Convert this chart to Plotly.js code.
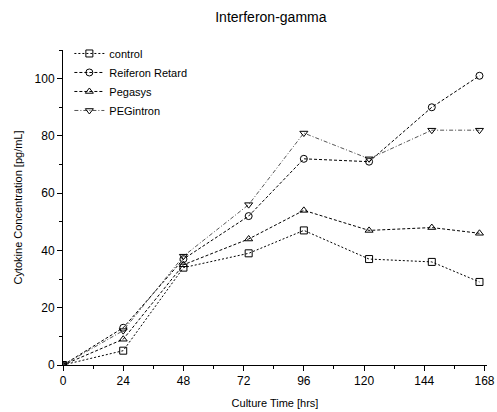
<!DOCTYPE html>
<html><head><meta charset="utf-8">
<script src="https://cdn.plot.ly/plotly-3.0.1.min.js"></script>
<style>html,body{margin:0;padding:0;background:#fff}#chart{width:497px;height:412px}</style>
</head><body><div id="chart"></div>
<script>
const timeHrs = [0, 24, 48, 74, 96, 122, 147, 166];
const control = [0, 5, 34, 39, 47, 37, 36, 29];
const reiferonRetard = [0, 13, 37, 52, 72, 71, 90, 101];
const pegasys = [0, 9, 35, 44, 54, 47, 48, 46];
const pegIntron = [0, 12, 38, 56, 81, 72, 82, 82];
const seriesNames = ['control', 'Reiferon Retard', 'Pegasys', 'PEGintron'];
const xTicks = [0, 24, 48, 72, 96, 120, 144, 168];
const yTicks = [0, 20, 40, 60, 80, 100];

const styles = [
  {sym: 'square-open', dash: '2px,2px', color: '#000'},
  {sym: 'circle-open', dash: '3px,2px', color: '#000'},
  {sym: 'triangle-up-open', dash: '3px,2px', color: '#000'},
  {sym: 'triangle-down-open', dash: '4px,2px,1px,2px', color: '#555'}
];
const values = [control, reiferonRetard, pegasys, pegIntron];
const traces = values.map((v, i) => ({
  x: timeHrs, y: v, name: seriesNames[i], type: 'scatter', mode: 'lines+markers',
  line: {color: styles[i].color, width: 1, dash: styles[i].dash},
  marker: {symbol: styles[i].sym, size: 7, color: '#000', line: {width: 1, color: '#000'}}
}));

const axisCommon = {
  showline: true, linecolor: '#000', linewidth: 1, mirror: false,
  ticks: 'outside', ticklen: 5, tickcolor: '#000', showgrid: false, zeroline: false,
  tickfont: {family: 'Liberation Sans, Arial', size: 12, color: '#000'}
};
const layout = {
  width: 497, height: 412,
  margin: {l: 63, r: 10, t: 50, b: 47},
  paper_bgcolor: '#fff', plot_bgcolor: '#fff',
  title: {text: 'Interferon-gamma', x: 0.545, xanchor: 'center', y: 0.958, yanchor: 'middle',
          font: {family: 'Liberation Sans, Arial', size: 14, color: '#000'}},
  xaxis: Object.assign({}, axisCommon, {
    range: [0, 169], tickmode: 'array', tickvals: xTicks, ticktext: xTicks.map(String),
    minor: {ticks: 'outside', dtick: 12, tick0: 0, ticklen: 3, tickcolor: '#000'},
    title: {text: 'Culture Time [hrs]', standoff: 11, font: {family: 'Liberation Sans, Arial', size: 11, color: '#000'}}
  }),
  yaxis: Object.assign({}, axisCommon, {
    range: [0, 110], tickmode: 'array', tickvals: yTicks, ticktext: yTicks.map(String),
    minor: {ticks: 'outside', dtick: 10, tick0: 0, ticklen: 3, tickcolor: '#000'},
    title: {text: 'Cytokine Concentration [pg/mL]', standoff: 9, font: {family: 'Liberation Sans, Arial', size: 11, color: '#000'}}
  }),
  showlegend: true,
  legend: {x: 0.015, y: 1.035, xanchor: 'left', yanchor: 'top', bgcolor: 'rgba(0,0,0,0)',
           font: {family: 'Liberation Sans, Arial', size: 11, color: '#000'}, tracegroupgap: 0, itemwidth: 30}
};
Plotly.newPlot('chart', traces, layout, {displayModeBar: false, staticPlot: true});
</script></body></html>
